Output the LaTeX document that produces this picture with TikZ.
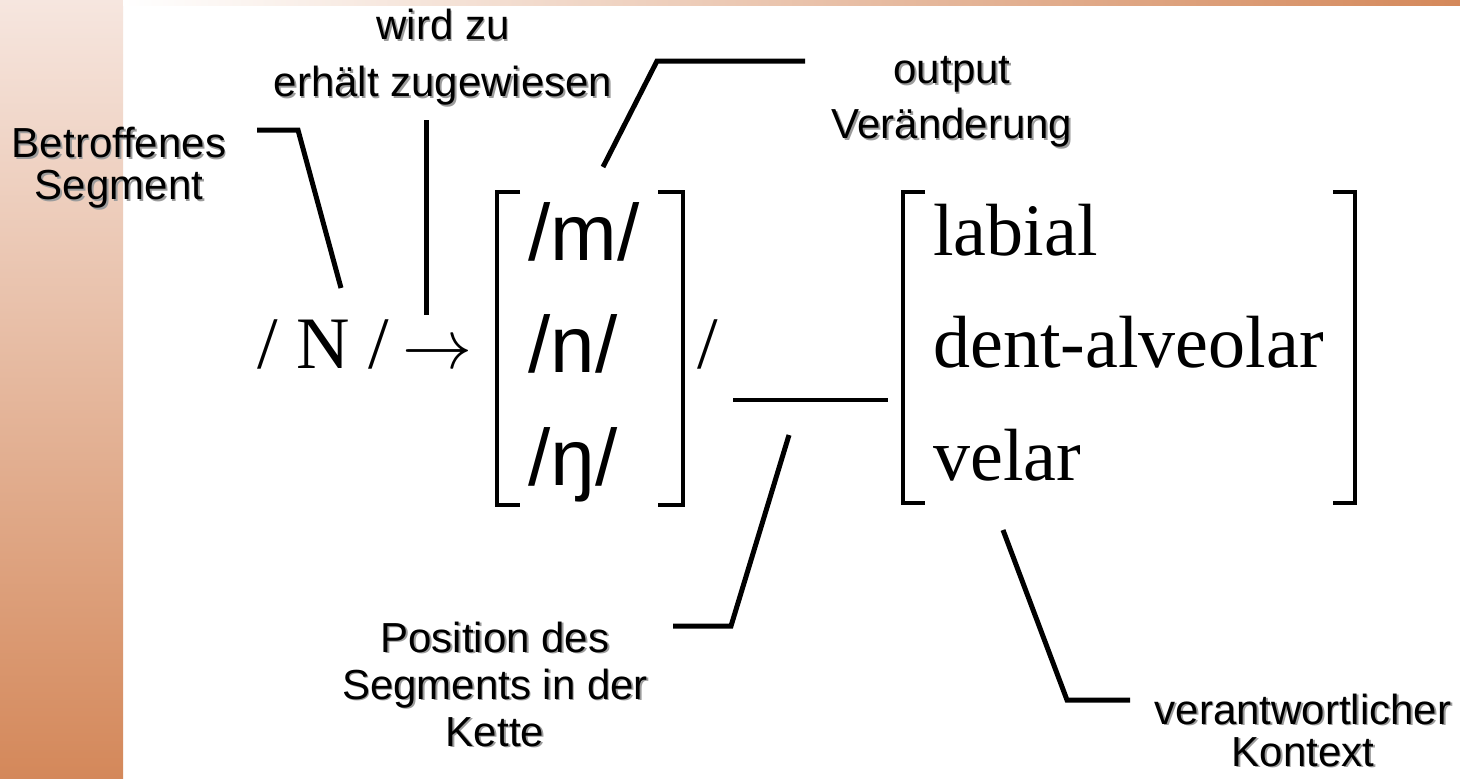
\RequirePackage{fix-cm}
\documentclass[tikz,border=0pt]{standalone}
\usepackage{fontspec}
\setmainfont{Liberation Serif}
\newfontfamily\lblfont{Liberation Sans}
\newfontfamily\ipafont{Liberation Sans}
\usepackage{tikz}
\usetikzlibrary{calc}
\definecolor{rust}{HTML}{D4885A}
\definecolor{blush}{HTML}{F6E6DF}
\definecolor{shade}{HTML}{9C9C9C}
\newcommand{\shd}[1]{\makebox[0pt][l]{\hspace{0.9pt}\raisebox{-0.9pt}{\textcolor{shade}{#1}}}#1}
\tikzset{lbl/.style={align=center,inner sep=0pt,font=\lblfont\fontsize{21}{#1}\selectfont},
serif/.style={anchor=base west,inner sep=0pt,font=\fontsize{37}{44}\selectfont},
ipa/.style={anchor=base west,inner sep=0pt,font=\ipafont\fontsize{40}{48}\selectfont},
callout/.style={draw=black,line width=2.5pt},
brk/.style={draw=black,line width=1.6pt}}

\begin{document}
\begin{tikzpicture}[x=0.5pt,y=-0.5pt]
\useasboundingbox (0,0) rectangle (1460,778);
\fill[white] (0,0) rectangle (1460,778);
\shade[top color=blush,bottom color=rust] (0,0) rectangle (123,778);
\shade[left color=white,right color=rust] (123,0) rectangle (1460,5);
% rule
\node[serif] (seg) at (257,368) {/ N /};
\node[serif,font=\fontsize{35}{42}\selectfont] (arr) at (402,368) {$\rightarrow$};
\node[ipa] (pm) at (528,260) {/m/};
\node[ipa] (pn) at (528,372) {/n/};
\node[ipa] (png) at (528,485) {/ŋ/};
\draw[brk] (520,192)--(497,192)--(497,505)--(520,505);
\draw[brk] (658,192)--(683,192)--(683,505)--(658,505);
\node[serif] (sl) at (697,368) {/};
\coordinate (gapl) at (733,400);
\coordinate (gapr) at (888,400);
\draw[line width=2pt] (gapl)--(gapr);
\node[serif] (lab) at (933,255) {labial};
\node[serif] (dent) at (933,367) {dent-alveolar};
\node[serif] (vel) at (933,480) {velar};
\draw[brk] (925,192)--(903,192)--(903,503)--(925,503);
\draw[brk] (1333,192)--(1355,192)--(1355,503)--(1333,503);
% labels
\node[lbl=21] (betr) at (119,168.5) {\shd{Betroffenes}\\\shd{Segment}};
\node[lbl=28.5] (wird) at (443,58) {\shd{wird zu}\\\shd{erhält zugewiesen}};
\node[lbl=27.5] (outv) at (952,102.5) {\shd{output}\\\shd{Veränderung}};
\node[lbl=23.5] (posi) at (495,685) {\shd{Position des}\\\shd{Segments in der}\\\shd{Kette}};
\node[lbl=21] (kont) at (1303,731) {\shd{verantwortlicher}\\\shd{Kontext}};
% callouts
\coordinate (segtip) at (341,288);
\coordinate (arrtip) at (426,315);
\coordinate (pmtip) at (603,167);
\coordinate (gaptip) at (789,435);
\coordinate (veltip) at (1003,530);
\draw[callout] (257,130)--(298,130)--(segtip);
\draw[callout] (426,120)--(arrtip);
\draw[callout] (pmtip)--(657,61)--(805,61);
\draw[callout] (673,626)--(731,626)--(gaptip);
\draw[callout] (veltip)--(1067,700)--(1130,700);
\end{tikzpicture}
\end{document}
